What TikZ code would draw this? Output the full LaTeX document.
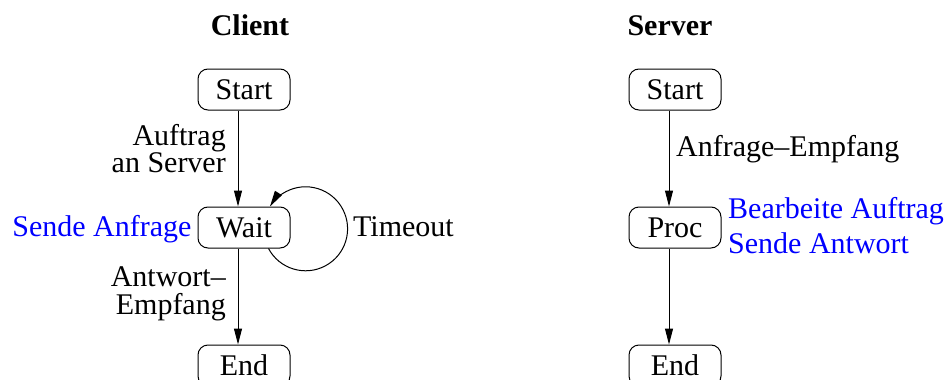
\documentclass[tikz,border=0pt]{standalone}
\usepackage{fontspec}
\setmainfont{Liberation Serif}
\usetikzlibrary{arrows.meta}
\definecolor{actblue}{RGB}{0,0,255}
\begin{document}
\begin{tikzpicture}[x=1pt,y=1pt,
  state/.style={draw, rounded corners=10pt, line width=1pt, minimum width=92pt, minimum height=41pt,
    inner sep=0pt, text height=20pt, text depth=0pt, font=\fontsize{30}{30}\selectfont},
  lbl/.style={inner sep=0pt, font=\fontsize{30}{30}\selectfont},
  act/.style={lbl, text=actblue},
  ttl/.style={inner sep=0pt, font=\fontsize{30}{30}\selectfont\bfseries},
  flow/.style={line width=1pt, -{Triangle[length=16pt,width=8pt]}}]
\path[use as bounding box] (0,0) rectangle (948,-380);

% titles
\node[ttl, anchor=base] (tc) at (250,-35) {Client};
\node[ttl, anchor=base] (ts) at (670,-35) {Server};

% client states
\node[state] (cstart) at (244,-89.5) {Start};
\node[state] (cwait)  at (244,-227.5) {Wait};
\node[state] (cend)   at (244,-365.5) {End};

% server states
\node[state] (sstart) at (675,-89.5) {Start};
\node[state] (sproc)  at (675,-227.5) {Proc};
\node[state] (send)   at (675,-365.5) {End};

% client transitions
\draw[flow] ([xshift=-6pt]cstart.south) -- ([xshift=-6pt]cwait.north);
\draw[flow] ([xshift=-6pt]cwait.south) -- ([xshift=-6pt]cend.north);
\draw[flow] ([xshift=-22pt]cwait.south east) arc[start angle=208, end angle=508, radius=42];

% server transitions
\draw[flow] ([xshift=-6pt]sstart.south) -- ([xshift=-6pt]sproc.north);
\draw[flow] ([xshift=-6pt]sproc.south) -- ([xshift=-6pt]send.north);

% client labels
\node[lbl, anchor=base east] (l1a) at (226,-145) {Auftrag};
\node[lbl, anchor=base east] (l1b) at (226,-172.7) {an Server};
\node[lbl, anchor=base east] (l2a) at (226,-286.7) {Antwort--};
\node[lbl, anchor=base east] (l2b) at (226,-314) {Empfang};
\node[act, anchor=base east] (a1) at (191.7,-236.7) {Sende Anfrage};
\node[lbl, anchor=base west] (l3) at (353,-236.7) {Timeout};

% server labels
\node[lbl, anchor=base west] (l4) at (676,-156.7) {Anfrage--Empfang};
\node[act, anchor=base west] (a2) at (728,-218.3) {Bearbeite Auftrag};
\node[act, anchor=base west] (a3) at (728,-253) {Sende Antwort};
\end{tikzpicture}
\end{document}
